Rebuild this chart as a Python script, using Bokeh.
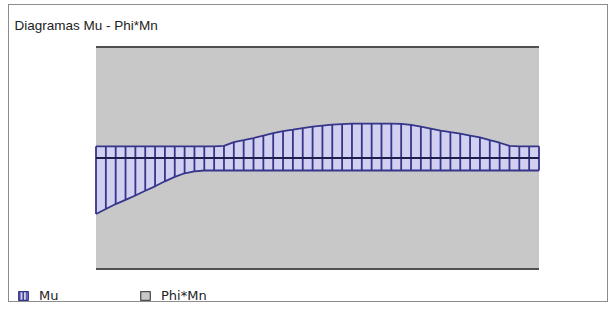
from bokeh.plotting import figure
from bokeh.models import Range1d, Legend, LegendItem, ColumnDataSource, Label
from bokeh.embed import file_html
from bokeh.resources import INLINE

# ---- data -------------------------------------------------------------
stations = list(range(46))
mu_pos = [2.1, 2.1, 2.1, 2.1, 2.1, 2.1, 2.1, 2.1, 2.1, 2.1,
          2.1, 2.1, 2.1, 2.2, 2.85, 3.2, 3.6, 4.05, 4.5, 4.85,
          5.1, 5.4, 5.65, 5.85, 6.0, 6.1, 6.2, 6.2, 6.2, 6.2,
          6.2, 6.15, 5.95, 5.65, 5.3, 4.95, 4.65, 4.4, 4.05, 3.7,
          3.2, 2.75, 2.2, 2.1, 2.1, 2.1]
mu_neg = [-10.1, -9.2, -8.3, -7.55, -6.75, -5.9, -5.1, -4.2, -3.4, -2.75,
          -2.4, -2.25, -2.25, -2.25, -2.25, -2.25, -2.25, -2.25, -2.25, -2.25,
          -2.25, -2.25, -2.25, -2.25, -2.25, -2.25, -2.25, -2.25, -2.25, -2.25,
          -2.25, -2.25, -2.25, -2.25, -2.25, -2.25, -2.25, -2.25, -2.25, -2.25,
          -2.25, -2.25, -2.25, -2.25, -2.25, -2.25]
phimn_pos = [20.0, 20.0, 20.0, 20.0, 20.0, 20.0, 20.0, 20.0, 20.0, 20.0,
             20.0, 20.0, 20.0, 20.0, 20.0, 20.0, 20.0, 20.0, 20.0, 20.0,
             20.0, 20.0, 20.0, 20.0, 20.0, 20.0, 20.0, 20.0, 20.0, 20.0,
             20.0, 20.0, 20.0, 20.0, 20.0, 20.0, 20.0, 20.0, 20.0, 20.0,
             20.0, 20.0, 20.0, 20.0, 20.0, 20.0]
phimn_neg = [-20.0, -20.0, -20.0, -20.0, -20.0, -20.0, -20.0, -20.0, -20.0, -20.0,
             -20.0, -20.0, -20.0, -20.0, -20.0, -20.0, -20.0, -20.0, -20.0, -20.0,
             -20.0, -20.0, -20.0, -20.0, -20.0, -20.0, -20.0, -20.0, -20.0, -20.0,
             -20.0, -20.0, -20.0, -20.0, -20.0, -20.0, -20.0, -20.0, -20.0, -20.0,
             -20.0, -20.0, -20.0, -20.0, -20.0, -20.0]
zero = [0.0] * len(stations)

title_text = "Diagramas Mu - Phi*Mn"
series_names = ["Mu", "Phi*Mn"]

src = ColumnDataSource(dict(x=stations, mu_pos=mu_pos, mu_neg=mu_neg,
                            pp=phimn_pos, pn=phimn_neg, zero=zero))

NAVY = "#35358a"
LAV = "#d2d0f0"
GRAY = "#c8c8c8"

# ---- layout: the frame covers the whole canvas; ranges place the band ----
W, H = 600, 298
PX_X = 443.0 / 45.0          # px per station
PX_Y = 222.0 / 40.0          # px per unit of moment
X0 = 0 - 86.5 / PX_X
X1 = X0 + W / PX_X
YT = 20 + 41.5 / PX_Y
YB = YT - H / PX_Y

p = figure(width=W, height=H, output_backend="svg", toolbar_location=None,
           x_range=Range1d(X0, X1), y_range=Range1d(YB, YT),
           x_axis_location=None, y_axis_location=None,
           min_border=0)
p.grid.visible = False
p.outline_line_color = None
p.background_fill_color = "white"
p.border_fill_color = "white"
p.styles = {"border": "1px solid #8c8c8c", "margin-left": "8px", "margin-top": "4px"}

# Phi*Mn capacity band
p.varea(x="x", y1="pn", y2="pp", source=src, fill_color=GRAY)
p.line(x="x", y="pp", source=src, line_color="#505050", line_width=2)
p.line(x="x", y="pn", source=src, line_color="#505050", line_width=2)

# Mu envelope
p.varea(x="x", y1="mu_neg", y2="mu_pos", source=src, fill_color=LAV)
p.segment(x0="x", y0="mu_neg", x1="x", y1="mu_pos", source=src,
          line_color=NAVY, line_width=1.8)
p.line(x="x", y="mu_pos", source=src, line_color=NAVY, line_width=1.8)
p.line(x="x", y="mu_neg", source=src, line_color=NAVY, line_width=1.8)
p.line(x="x", y="zero", source=src, line_color="#1e1e50", line_width=1.8)

# title
p.add_layout(Label(x=X0 + 5 / PX_X, y=YT - 20 / PX_Y, text=title_text,
                   text_font="Liberation Sans", text_font_size="13.5px",
                   text_color="#222222", text_baseline="middle", text_align="left"))

# legend swatches (one invisible NaN quad each, so the legend has a row to draw)
nan = float("nan")
mu_dummy = p.quad(left=[nan], right=[nan], top=[nan], bottom=[nan], fill_color=LAV,
                  line_color=NAVY, line_width=1.3, hatch_pattern="vertical_line",
                  hatch_color=NAVY, hatch_scale=3.5, hatch_weight=1.4)
phi_dummy = p.quad(left=[nan], right=[nan], top=[nan], bottom=[nan], fill_color=GRAY,
                   line_color="#505050", line_width=1.3)

legend = Legend(items=[LegendItem(label=series_names[0], renderers=[mu_dummy]),
                       LegendItem(label=series_names[1], renderers=[phi_dummy])],
                orientation="horizontal", location=(8, 0),
                glyph_width=12, glyph_height=11, label_standoff=10,
                spacing=80, padding=0, margin=0,
                border_line_color=None, background_fill_alpha=0,
                label_text_font="DejaVu Sans", label_text_font_size="13px",
                label_text_color="#222222")
p.add_layout(legend, "center")

open("out.html", "w").write(file_html(p, INLINE))
